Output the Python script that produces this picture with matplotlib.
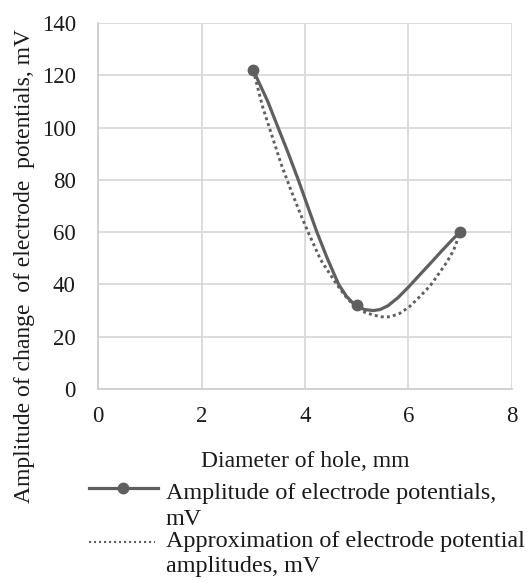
import matplotlib
matplotlib.use("Agg")
import matplotlib.pyplot as plt
from matplotlib.lines import Line2D

plt.rcParams['font.family'] = ['Liberation Serif', 'DejaVu Serif']

# measured points
diam = [3, 5, 7]
amp = [122, 32, 60]

smooth_x = [3.0, 3.28, 3.48, 3.68, 3.87, 4.05, 4.23, 4.43, 4.65, 4.8, 4.92, 5.0, 5.15, 5.32, 5.45, 5.6, 5.8, 6.0, 6.2, 6.42, 6.65, 6.87, 7.0]
smooth_y = [122, 110, 100, 90, 80, 70, 60, 50, 40, 35.5, 33, 31.7, 30.4, 30, 30.4, 31.8, 35, 39, 43.3, 48, 53, 57.6, 60]

# approximation curve
approx_x = [3.0, 3.18, 3.36, 3.54, 3.71, 3.9, 4.06, 4.3, 4.58, 4.76, 4.94, 5.12, 5.32, 5.48, 5.64, 5.82, 6.02, 6.2, 6.42, 6.6, 6.74, 6.87, 7.0]
approx_y = [122, 108, 97, 86, 77, 67.5, 60, 49.5, 41, 36, 32, 29.6, 28.3, 27.6, 27.6, 28.8, 31.5, 35, 39.5, 44.5, 48.5, 53, 60]

legend_1 = ['Amplitude of electrode potentials,', 'mV']
legend_2 = ['Approximation of electrode potential', 'amplitudes, mV']

W, H = 527, 582
fig = plt.figure(figsize=(W / 100, H / 100), dpi=100)
ax = fig.add_axes([98 / W, 1 - 389 / H, (512 - 98) / W, (389 - 23) / H])

line_col = '#5f5f5f'
grid_col = '#d9d9d9'
txt_col = '#1a1a1a'
fs_tick = 16.5
fs_lab = 17
fs_leg = 17.4

ax.plot(approx_x, approx_y, color=line_col, lw=2.1, linestyle=(0, (1, 1.1)), zorder=3)
ax.plot(smooth_x, smooth_y, color=line_col, lw=2.3, zorder=4, solid_capstyle='round',
        solid_joinstyle='round')
ax.plot(diam, amp, linestyle='none', marker='o', ms=7.5, color=line_col, zorder=5)

ax.set_xlim(0, 8)
ax.set_ylim(0, 140)
ax.set_xticks(range(0, 9, 2))
ax.set_yticks(range(0, 141, 20))
ax.grid(True, color=grid_col, lw=1.3)
ax.set_axisbelow(True)
for s in ax.spines.values():
    s.set_visible(False)
for side in ['left', 'bottom']:
    ax.spines[side].set_visible(True)
    ax.spines[side].set_color('#cfcfcf')
    ax.spines[side].set_linewidth(1.3)
ax.tick_params(axis='y', length=0, pad=16, labelsize=fs_tick, colors=txt_col)
ax.tick_params(axis='x', length=0, pad=12, labelsize=fs_tick, colors=txt_col)

fig.text(0.5 * (98 + 512) / W, 1 - 467 / H, 'Diameter of hole, mm', ha='center', va='baseline',
         fontsize=fs_lab, color=txt_col)
fig.text(25 / W, 1 - 266 / H, 'Amplitude of change  of electrode  potentials, mV', rotation=90,
         ha='center', va='center', fontsize=fs_lab, color=txt_col)

# legend drawn by hand so the handle sits on the first text line
fig.add_artist(Line2D([89 / W, 158 / W], [1 - 488 / H, 1 - 488 / H], color=line_col, lw=2.3,
                      transform=fig.transFigure))
fig.add_artist(Line2D([123 / W], [1 - 488 / H], marker='o', ms=7.5, color=line_col,
                      transform=fig.transFigure))
fig.add_artist(Line2D([89 / W, 155 / W], [1 - 542 / H, 1 - 542 / H], color=line_col, lw=1.5,
                      linestyle=(0, (1, 1.4)), transform=fig.transFigure))
for txt, yb in zip(legend_1 + legend_2, [499, 525, 547, 572]):
    fig.text(166 / W, 1 - yb / H, txt, ha='left', va='baseline', fontsize=fs_leg, color=txt_col)

fig.savefig('out.png', dpi=100, facecolor='white')
